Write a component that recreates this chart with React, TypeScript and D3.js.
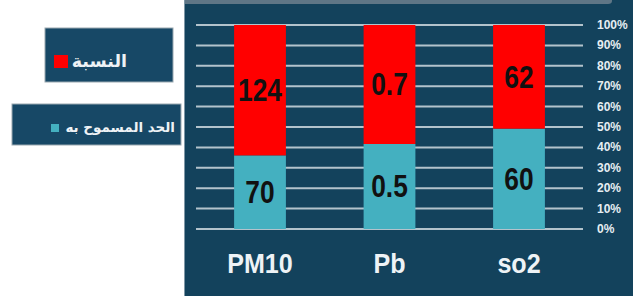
import React from "react";
import * as d3 from "d3";

const categories = ["PM10", "Pb", "so2"];
const allowedValues = [70, 0.5, 60]; // الحد المسموح به
const ratioValues = [124, 0.7, 62]; // النسبة
const tickValues = [0, 0.1, 0.2, 0.3, 0.4, 0.5, 0.6, 0.7, 0.8, 0.9, 1];
const legendLabels = ["النسبة", "الحد المسموح به"];

const W = 633;
const H = 300;
const TEAL = "#44b0c0";
const RED = "#ff0000";
const PANEL = "#13425c";

export default function App() {
  const rows = categories.map((c, i) => ({
    cat: c,
    allowed: allowedValues[i],
    ratio: ratioValues[i],
  }));

  const stack = d3
    .stack<any>()
    .keys(["allowed", "ratio"])
    .offset(d3.stackOffsetExpand);
  const series = stack(rows);

  // plot area
  const x = d3
    .scaleBand<string>()
    .domain(categories)
    .range([195.25, 583.75])
    .paddingInner(0.6)
    .paddingOuter(0.3);
  const y = d3.scaleLinear().domain([0, 1]).range([229, 25]);

  const colors: Record<string, string> = { allowed: TEAL, ratio: RED };

  return (
    <svg
      width={W}
      height={H}
      style={{ position: "absolute", left: 0, top: 0, background: "#ffffff" }}
    >
      {/* dark panel */}
      <rect x={184} y={0} width={W - 184} height={296} fill={PANEL} />
      <line x1={184.5} x2={184.5} y1={0} y2={296} stroke="#7f97a6" strokeWidth={1} />
      <path d="M185,0 H612 V1 Q612,4 608,4 H185 Z" fill="#5f7686" />

      {/* grid lines */}
      {tickValues.map((t) => (
        <line
          key={t}
          x1={196}
          x2={583}
          y1={y(t)}
          y2={y(t)}
          stroke="#b3c3cc"
          strokeWidth={2}
        />
      ))}

      {/* stacked bars */}
      {series.map((s) =>
        s.map((d, i) => {
          const cat = categories[i];
          const y0 = y(d[0]);
          const y1 = y(d[1]);
          const cx = (x(cat) as number) + x.bandwidth() / 2;
          const val = s.key === "allowed" ? allowedValues[i] : ratioValues[i];
          return (
            <g key={s.key + cat}>
              <rect
                x={x(cat)}
                y={y1}
                width={x.bandwidth()}
                height={y0 - y1}
                fill={colors[s.key]}
              />
              <text
                transform={`translate(${cx},${(y0 + y1) / 2}) scale(0.85,1)`}
                textAnchor="middle"
                dominantBaseline="central"
                fontFamily="'Liberation Sans', sans-serif"
                fontWeight="bold"
                fontSize={31}
                fill="#111111"
              >
                {val}
              </text>
            </g>
          );
        })
      )}

      {/* right axis tick labels */}
      {tickValues.map((t) => (
        <text
          key={"l" + t}
          x={597}
          y={y(t)}
          dominantBaseline="central"
          fontFamily="'Liberation Sans', sans-serif"
          fontWeight="bold"
          fontSize={12}
          fill="#e6eef2"
        >
          {d3.format(".0%")(t)}
        </text>
      ))}

      {/* category labels */}
      {categories.map((c) => (
        <text
          key={"c" + c}
          transform={`translate(${(x(c) as number) + x.bandwidth() / 2},273) scale(0.93,1)`}
          textAnchor="middle"
          fontFamily="'Liberation Sans', sans-serif"
          fontWeight="bold"
          fontSize={27}
          fill="#eef3f6"
        >
          {c}
        </text>
      ))}

      {/* legend */}
      <rect x={45} y={28} width={128} height={54} fill="#174866" stroke="#9aa8b0" strokeWidth={1} />
      <rect x={54} y={55} width={14} height={13} fill={RED} />
      <text
        x={127}
        y={61}
        textAnchor="end"
        dominantBaseline="central"
        fontFamily="'DejaVu Sans', sans-serif"
        fontWeight="bold"
        fontSize={17.5}
        fill="#eef2f5"
      >
        {legendLabels[0]}
      </text>

      <rect x={12} y={104} width={169} height={41} fill="#174866" stroke="#9aa8b0" strokeWidth={1} />
      <rect x={51} y={124} width={8} height={8} fill={TEAL} />
      <text
        x={175}
        y={127}
        textAnchor="end"
        dominantBaseline="central"
        fontFamily="'DejaVu Sans', sans-serif"
        fontWeight="bold"
        fontSize={13.5}
        fill="#eef2f5"
      >
        {legendLabels[1]}
      </text>
    </svg>
  );
}
